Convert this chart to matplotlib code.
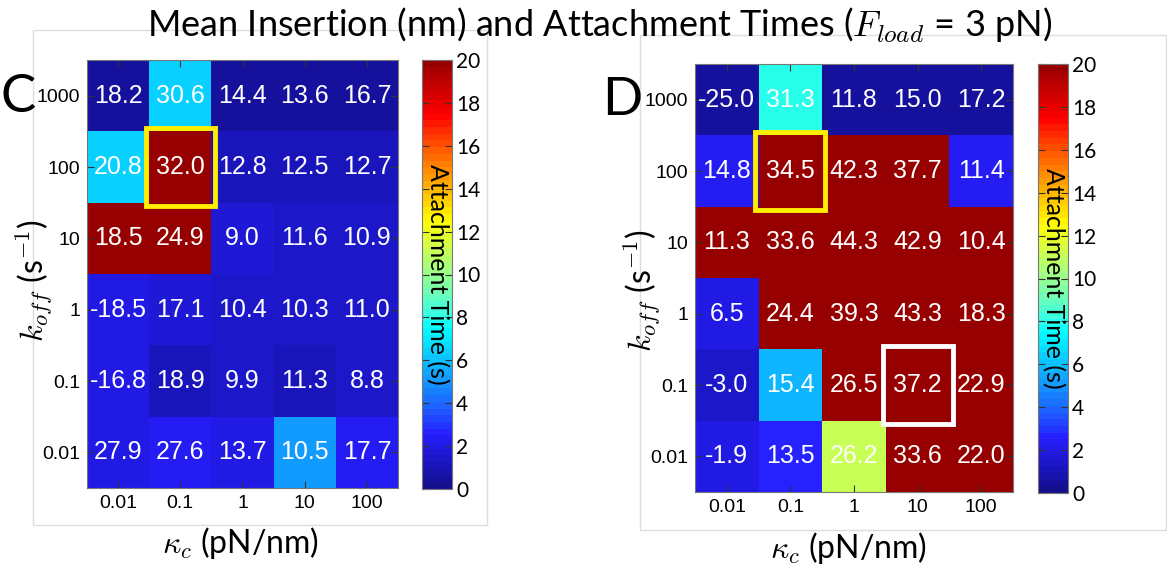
import matplotlib
matplotlib.use('Agg')
import matplotlib.pyplot as plt
import numpy as np
from matplotlib.colors import LinearSegmentedColormap, ListedColormap
from matplotlib.patches import Rectangle

koff_labels = ['1000', '100', '10', '1', '0.1', '0.01']
kc_labels = ['0.01', '0.1', '1', '10', '100']

# Mean insertion (nm) - printed in the cells
insert_C = [[18.2, 30.6, 14.4, 13.6, 16.7],
            [20.8, 32.0, 12.8, 12.5, 12.7],
            [18.5, 24.9, 9.0, 11.6, 10.9],
            [-18.5, 17.1, 10.4, 10.3, 11.0],
            [-16.8, 18.9, 9.9, 11.3, 8.8],
            [27.9, 27.6, 13.7, 10.5, 17.7]]
insert_D = [[-25.0, 31.3, 11.8, 15.0, 17.2],
            [14.8, 34.5, 42.3, 37.7, 11.4],
            [11.3, 33.6, 44.3, 42.9, 10.4],
            [6.5, 24.4, 39.3, 43.3, 18.3],
            [-3.0, 15.4, 26.5, 37.2, 22.9],
            [-1.9, 13.5, 26.2, 33.6, 22.0]]

# Attachment time (s)
attach_C = [[0.4, 6.4, 0.4, 0.5, 0.5],
            [6.4, 21.0, 1.0, 1.0, 1.2],
            [21.0, 21.0, 1.8, 1.3, 1.4],
            [2.0, 1.8, 1.5, 1.4, 1.4],
            [2.1, 1.0, 1.5, 1.2, 1.5],
            [2.0, 2.2, 2.1, 5.0, 2.3]]
attach_D = [[0.5, 8.0, 0.5, 0.5, 0.5],
            [2.2, 21.0, 21.0, 21.0, 2.3],
            [21.0, 21.0, 21.0, 21.0, 21.0],
            [2.0, 21.0, 21.0, 21.0, 21.0],
            [1.3, 5.9, 21.0, 21.0, 21.0],
            [2.0, 2.6, 11.2, 21.0, 21.0]]

# (row, col, colour) of the highlighted cells
boxes_C = [(1, 1, '#ffee00')]
boxes_D = [(1, 1, '#ffee00'), (4, 3, 'white')]

plt.rcParams['mathtext.fontset'] = 'cm'

# matlab style jet, 64 levels, slightly lightened like the picture
mjet = LinearSegmentedColormap.from_list('mjet', [
    (0.0, (0, 0, 0.5)), (0.125, (0, 0, 1)), (0.375, (0, 1, 1)),
    (0.625, (1, 1, 0)), (0.875, (1, 0, 0)), (1.0, (0.5, 0, 0))], N=64)
cols = mjet(np.linspace(0, 1, 64))[:, :3]
r, g, b = cols[:, 0], cols[:, 1], cols[:, 2]
lift = 0.15 * b * (1 - g)
cols = np.stack([np.clip(r ** 0.75 + lift, 0, 1),
                 np.clip(g ** 0.9 + lift * 0.8, 0, 1),
                 b ** 0.85], axis=1)
cmap = ListedColormap(cols)

W, H = 1167, 569
fig = plt.figure(figsize=(W / 100, H / 100), dpi=100)


def fr(x0, y0, x1, y1):
    return [x0 / W, 1 - y1 / H, (x1 - x0) / W, (y1 - y0) / H]


def panel(ax_rect, cb_rect, insert, attach, boxes):
    ax = fig.add_axes(fr(*ax_rect))
    im = ax.imshow(np.array(attach), cmap=cmap, vmin=0, vmax=20, aspect='auto',
                   interpolation='nearest')
    for i in range(len(koff_labels)):
        for j in range(len(kc_labels)):
            ax.text(j, i, '%.1f' % insert[i][j], ha='center', va='center',
                    color='white', fontsize=18, family='Liberation Sans')
    for (i, j, c) in boxes:
        ax.add_patch(Rectangle((j - 0.55, i - 0.55), 1.1, 1.1, fill=False,
                               ec=c, lw=3.5, clip_on=False, zorder=5))
    ax.set_xticks(range(len(kc_labels)))
    ax.set_xticklabels(kc_labels)
    ax.set_yticks(range(len(koff_labels)))
    ax.set_yticklabels(koff_labels)
    ax.tick_params(direction='in', top=True, right=True, length=5,
                   color='#333333', labelsize=14, pad=5)
    for lab in ax.get_xticklabels() + ax.get_yticklabels():
        lab.set_family('Liberation Sans')
    for s in ax.spines.values():
        s.set_color('#777777')

    cax = fig.add_axes(fr(*cb_rect))
    cb = fig.colorbar(im, cax=cax, ticks=np.arange(0, 21, 2))
    cax.tick_params(direction='in', left=True, right=True, length=5,
                    color='#333333', labelsize=15, pad=3)
    for lab in cax.get_yticklabels():
        lab.set_family('Lato')
    cb.outline.set_edgecolor('#777777')
    cax.text(0.5, 0.5, 'Attachment Time (s)', rotation=-90, ha='center',
             va='center', transform=cax.transAxes, fontsize=18, family='Lato')
    return ax


panel((87, 60, 398, 488), (422, 60, 452, 489), insert_C, attach_C, boxes_C)
panel((695, 64, 1013, 492), (1038, 64, 1068, 493), insert_D, attach_D, boxes_D)

# light frames around the panels
for (x0, y0, x1, y1) in [(33, 30, 487, 525), (640, 35, 1166, 530)]:
    fig.add_artist(Rectangle((x0 / W, 1 - y1 / H), (x1 - x0) / W, (y1 - y0) / H,
                             transform=fig.transFigure, fill=False,
                             ec='#dddddd', lw=1))

fig.text(600 / W, 1 - 25 / H,
         'Mean Insertion (nm) and Attachment Times ($F_{load}$ = 3 pN)',
         ha='center', va='center', fontsize=26, family='Lato')
fig.text(18 / W, 1 - 97 / H, 'C', ha='center', va='center', fontsize=38, family='Lato')
fig.text(622 / W, 1 - 100 / H, 'D', ha='center', va='center', fontsize=38, family='Lato')

for x, y in [(240, 543), (848, 548)]:
    fig.text(x / W, 1 - y / H, r'$\kappa_c$ (pN/nm)', ha='center', va='center',
             fontsize=23, family='Lato')
for x, y in [(35, 280), (643, 290)]:
    fig.text(x / W, 1 - y / H, r'$k_{off}$ (s$^{\mathsf{-1}}$)', ha='center',
             va='center', rotation=90, fontsize=23, family='Lato')

fig.savefig('out.png', dpi=100)
